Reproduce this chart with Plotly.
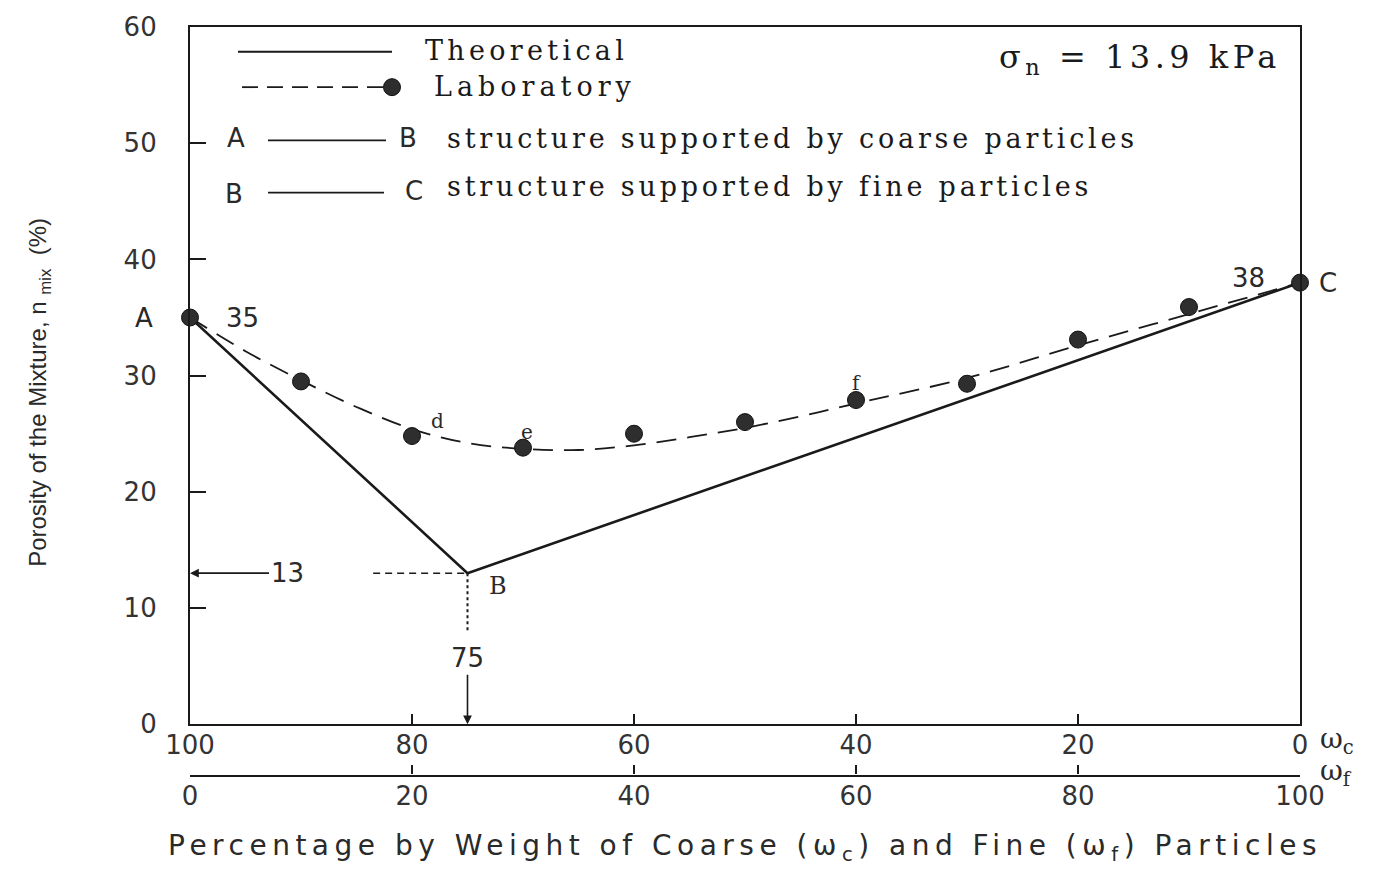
import plotly.graph_objects as go

# ---- data -------------------------------------------------------------
# Laboratory measurements: coarse fraction wc (%) vs. porosity n_mix (%)
lab_wc = [100, 90, 80, 70, 60, 50, 40, 30, 20, 10, 0]
lab_n = [35, 29.5, 24.8, 23.8, 25.0, 26.0, 27.9, 29.3, 33.1, 35.9, 38]

# Smoothed trend drawn through the laboratory data
trend_wc = [100, 95, 90, 85, 80, 75, 70, 65, 60, 55, 50, 45, 40, 30, 20, 10, 0]
trend_n = [35, 32.1, 29.6, 27.3, 25.4, 24.2, 23.7, 23.6, 24.0, 24.7, 25.5,
           26.5, 27.6, 29.8, 32.6, 35.3, 38]

# Theoretical model: A (all coarse) -> B (minimum porosity) -> C (all fine)
theo_wc = [100, 75, 0]
theo_n = [35, 13, 38]

# Extent of the guides drawn from B
guide_wc_start = 83.5
guide_n_end = 7.9

# Letters attached to selected laboratory points
lab_letters = ["d", "e", "f"]
lab_letter_wc = [80, 70, 40]

# Axis ticks
y_ticks = [0, 10, 20, 30, 40, 50, 60]
wc_ticks = [100, 80, 60, 40, 20, 0]
wf_ticks = [0, 20, 40, 60, 80, 100]

# ---- page geometry ----------------------------------------------------
W, H = 1384, 870
M_L, M_R, M_T, M_B = 190, 84, 16, 58
PLOT_W = W - M_L - M_R
PLOT_H = H - M_T - M_B


def px(x):
    """page pixel x -> paper fraction"""
    return (x - M_L) / PLOT_W


def py(y):
    """page pixel y -> paper fraction"""
    return (H - M_B - y) / PLOT_H


INK = "#1a1a1a"
SANS = "DejaVu Sans"
SERIF = "DejaVu Serif"
NARROW = "Liberation Sans Narrow, Liberation Sans, Arial"


def spaced(text, gap):
    return f'<span style="letter-spacing:{gap}px">{text}</span>'


def note(x, y, text, font, xanchor="center", **kw):
    """paper-positioned text, anchored on its vertical middle"""
    return dict(x=x, y=y, xref="paper", yref="paper", text=text, showarrow=False,
                xanchor=xanchor, yanchor="middle", font=font, **kw)


fig = go.Figure()

fig.add_trace(go.Scatter(
    x=theo_wc, y=theo_n, mode="lines",
    line=dict(color=INK, width=2.6), cliponaxis=False,
    showlegend=False, hoverinfo="skip"))

fig.add_trace(go.Scatter(
    x=trend_wc, y=trend_n, mode="lines",
    line=dict(color=INK, width=1.8, dash="20px,11px", shape="spline", smoothing=1.0),
    cliponaxis=False, showlegend=False, hoverinfo="skip"))

fig.add_trace(go.Scatter(
    x=lab_wc, y=lab_n, mode="markers",
    marker=dict(size=17, color="#2e2e2e", line=dict(color="#111111", width=1)),
    cliponaxis=False, showlegend=False))

# carrier for the wf scale
fig.add_trace(go.Scatter(
    x=wf_ticks, y=[None] * len(wf_ticks), xaxis="x2", yaxis="y",
    mode="markers", showlegend=False, hoverinfo="skip"))

# B guides: dashed to the left, dotted downwards
fig.add_shape(type="line", xref="x", yref="y",
              x0=guide_wc_start, x1=theo_wc[1], y0=theo_n[1], y1=theo_n[1],
              line=dict(color=INK, width=1.5, dash="7px,5px"))
fig.add_shape(type="line", xref="x", yref="y",
              x0=theo_wc[1], x1=theo_wc[1], y0=theo_n[1], y1=guide_n_end,
              line=dict(color=INK, width=2, dash="3px,3px"))

ann = []
tick_font = dict(family=SANS, size=26, color="#333333")
lbl_font = dict(family=SANS, size=26, color="#2a2a2a")

# point labels on the theoretical path
ann += [
    dict(x=theo_wc[0], y=theo_n[0], xref="x", yref="y", text="A", showarrow=False,
         xshift=-46, font=lbl_font),
    dict(x=theo_wc[0], y=theo_n[0], xref="x", yref="y", text=str(theo_n[0]), showarrow=False,
         xshift=52, font=lbl_font),
    dict(x=theo_wc[1], y=theo_n[1], xref="x", yref="y", text="B", showarrow=False,
         xshift=30, yshift=-13, font=dict(family=SERIF, size=24, color="#2a2a2a")),
    dict(x=theo_wc[2], y=theo_n[2], xref="x", yref="y", text=str(theo_n[2]), showarrow=False,
         xshift=-52, yshift=5, font=lbl_font),
    dict(x=theo_wc[2], y=theo_n[2], xref="x", yref="y", text="C", showarrow=False,
         xshift=28, font=lbl_font),
]
for letter, wc in zip(lab_letters, lab_letter_wc):
    n = lab_n[lab_wc.index(wc)]
    shift = {"d": (25, 15), "e": (4, 16), "f": (0, 17)}[letter]
    ann.append(dict(x=wc, y=n, xref="x", yref="y", text=letter, showarrow=False,
                    xshift=shift[0], yshift=shift[1],
                    font=dict(family=SERIF, size=20, color="#2a2a2a")))

# arrows marking the B coordinates on the axes
ann.append(dict(x=100, y=theo_n[1], xref="x", yref="y", text=str(theo_n[1]),
                showarrow=True, ax=97, ay=0, arrowhead=2, arrowsize=1.1, arrowwidth=1.6,
                arrowcolor=INK, font=lbl_font))
ann.append(dict(x=theo_wc[1], y=0, xref="x", yref="y", text=str(theo_wc[1]),
                showarrow=True, ax=0, ay=-66, arrowhead=2, arrowsize=1.1, arrowwidth=1.6,
                arrowcolor=INK, font=lbl_font))

# key in the upper-left corner
serif_font = dict(family=SERIF, size=27, color="#1a1a1a")
fig.add_shape(type="line", xref="paper", yref="paper", x0=px(238), x1=px(392),
              y0=py(41), y1=py(41), line=dict(color=INK, width=2))
fig.add_shape(type="line", xref="paper", yref="paper", x0=px(242), x1=px(386),
              y0=py(77), y1=py(77), line=dict(color=INK, width=1.8, dash="16px,9px"))
fig.add_shape(type="circle", xref="paper", yref="paper", xsizemode="pixel", ysizemode="pixel",
              xanchor=px(392), yanchor=py(77), x0=-8.5, x1=8.5, y0=-8.5, y1=8.5,
              fillcolor="#2e2e2e", line=dict(color="#111111", width=1))
fig.add_shape(type="line", xref="paper", yref="paper", x0=px(268), x1=px(386),
              y0=py(131), y1=py(131), line=dict(color=INK, width=1.8))
fig.add_shape(type="line", xref="paper", yref="paper", x0=px(268), x1=px(384),
              y0=py(184), y1=py(184), line=dict(color=INK, width=1.8))

ann += [
    note(px(423), py(40), spaced("Theoretical", 4.3), serif_font, "left"),
    note(px(432), py(76), spaced("Laboratory", 5), serif_font, "left"),
    note(px(445), py(129), spaced("structure supported by coarse particles", 3.8),
         serif_font, "left"),
    note(px(445), py(178), spaced("structure supported by fine particles", 3.8),
         serif_font, "left"),
    note(px(236), py(129), "A", lbl_font),
    note(px(408), py(129), "B", lbl_font),
    note(px(234), py(185), "B", lbl_font),
    note(px(414), py(182), "C", lbl_font),
    note(px(1283), py(48), spaced("σ<sub>n</sub> = 13.9 kPa", 4.5),
         dict(family=SERIF, size=32, color="#1a1a1a"), "right"),
    # scale names next to the two horizontal axes
    note(px(1318), py(739), "ω<sub>c</sub>",
         dict(family=SERIF, size=28, color="#2a2a2a"), "left"),
    note(px(1318), py(772), "ω<sub>f</sub>",
         dict(family=SERIF, size=28, color="#2a2a2a"), "left"),
    # axis titles
    note(px(40), py(387), "Porosity of the Mixture, n <sub>mix</sub>\u00a0\u00a0(%)",
         dict(family=NARROW, size=24, color="#2a2a2a"), textangle=-90),
    note(px(745), py(848),
         spaced("Percentage by Weight of Coarse (ω<sub>c</sub>) and Fine (ω<sub>f</sub>) Particles", 5.5),
         dict(family=SANS, size=28, color="#2a2a2a")),
]

axis_common = dict(showgrid=False, zeroline=False, showline=True, linewidth=2.2,
                   linecolor=INK, ticks="inside", tickwidth=2, tickcolor=INK,
                   tickfont=tick_font, ticklabeloverflow="allow")

fig.update_layout(
    width=W, height=H,
    margin=dict(l=M_L, r=M_R, t=M_T, b=M_B),
    paper_bgcolor="white", plot_bgcolor="white",
    xaxis=dict(range=[100, 0], tickvals=wc_ticks, ticklen=10, mirror=True,
               anchor="y", ticklabelstandoff=-4, **axis_common),
    xaxis2=dict(range=[0, 100], tickvals=wf_ticks, ticklen=9, overlaying="x",
                anchor="free", position=py(775), side="bottom",
                ticklabelstandoff=-3, **axis_common),
    yaxis=dict(range=[0, 60], tickvals=y_ticks, ticklen=16, mirror=True,
               domain=[py(723), 1], ticklabelstandoff=26, **axis_common),
    annotations=ann,
    showlegend=False,
)

fig.write_html("out.html")
